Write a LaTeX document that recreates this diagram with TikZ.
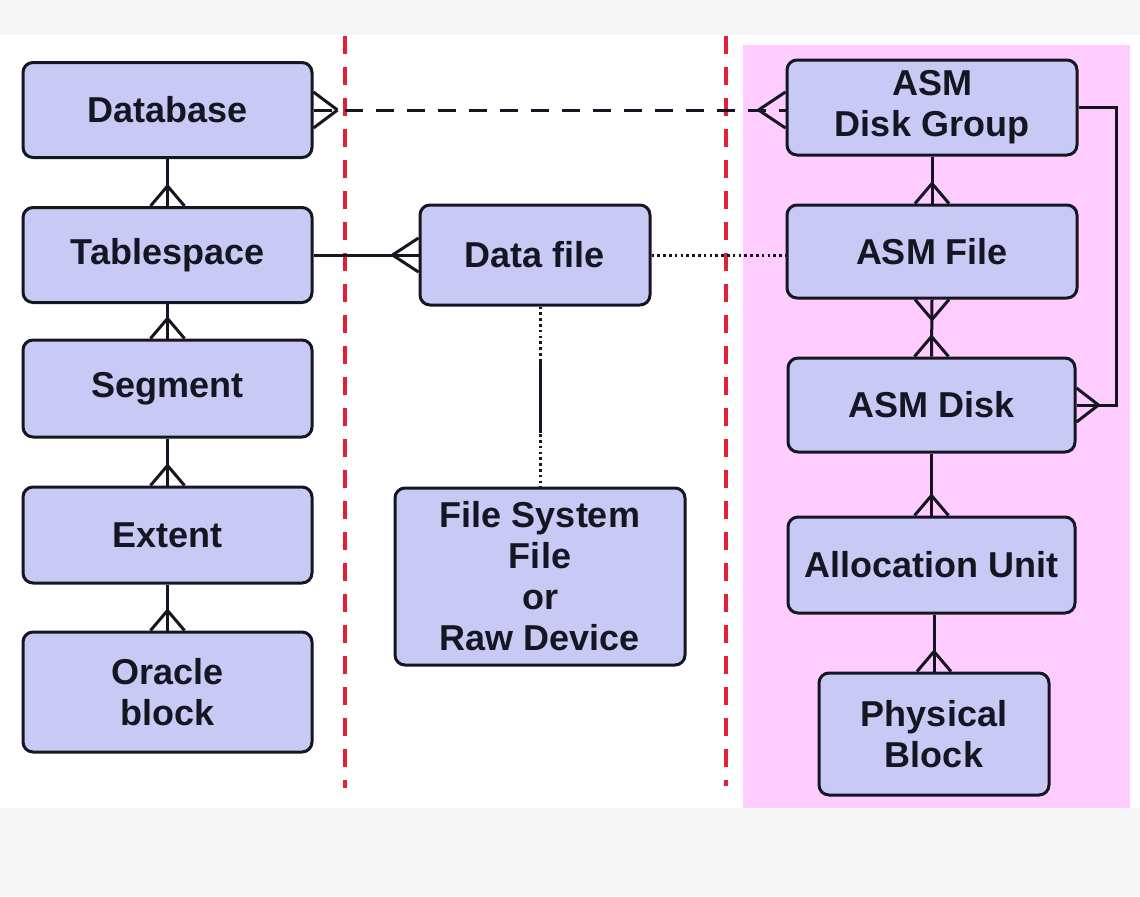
\documentclass[tikz,border=0pt]{standalone}
\usepackage{fontspec}
\setmainfont{Liberation Sans}
\usetikzlibrary{calc}
\definecolor{boxfill}{RGB}{200,202,245}
\definecolor{pinkbg}{RGB}{255,204,255}
\definecolor{reddash}{RGB}{228,32,52}
\definecolor{outerbg}{RGB}{246,246,246}
\definecolor{ink}{RGB}{22,22,34}
\newcommand{\crowat}[3]{\draw[conn] ($(#1)+#2$) -- ($(#1)+#3$) ($(#1)+#2$) -- ($(#1)-#3$);}
\begin{document}
\begin{tikzpicture}[x=0.5pt,y=-0.5pt,
  entity/.style={draw=ink, line width=1.5pt, fill=boxfill, rounded corners=5pt,
    align=center, text=ink, font=\fontsize{18}{20.5}\selectfont\bfseries,
    inner sep=0pt},
  conn/.style={draw=ink, line width=1.5pt},
  sep/.style={draw=reddash, line width=2pt, dash pattern=on 9pt off 6.5pt},
  dashconn/.style={conn, dash pattern=on 9pt off 6.5pt},
  dotconn/.style={conn, dash pattern=on 1.3pt off 1.6pt}]
\useasboundingbox (0,0) rectangle (1140,896);
\fill[outerbg] (0,0) rectangle (1140,896);
\fill[white] (0,35) rectangle (1140,808);
\fill[pinkbg] (743,45) rectangle (1130,808);
\draw[sep] (345,36) -- (345,788);
\draw[sep] (726,36) -- (726,786);

% left column
\node[entity, minimum width=144.5pt, minimum height=47.5pt] (db) at (167.5,110) {Database};
\node[entity, minimum width=144.5pt, minimum height=47.5pt] (ts) at (167.5,255) {Tablespace};
\node[entity, minimum width=144.5pt, minimum height=48.5pt] (sg) at (167.5,388.5) {Segment};
\node[entity, minimum width=144.5pt, minimum height=48pt] (ex) at (167.5,535) {Extent};
\node[entity, minimum width=144.5pt, minimum height=60pt] (ob) at (167.5,692) {Oracle\\block};

% middle column
\node[entity, minimum width=115pt, minimum height=50pt] (df) at (535,255) {Data file};
\node[entity, minimum width=145pt, minimum height=88.5pt] (fs) at (540,576.5) {File System\\File\\or\\Raw Device};

% right column
\node[entity, minimum width=145pt, minimum height=47.5pt] (dg) at (932,107.5) {ASM\\Disk Group};
\node[entity, minimum width=145pt, minimum height=46.5pt] (af) at (932,251.5) {ASM File};
\node[entity, minimum width=143.5pt, minimum height=47pt] (ad) at (931.5,405) {ASM Disk};
\node[entity, minimum width=143.5pt, minimum height=48pt] (au) at (931.5,565) {Allocation Unit};
\node[entity, minimum width=115pt, minimum height=61pt] (pb) at (934,734) {Physical\\Block};

% left column connectors
\draw[conn] (db.south) -- (ts.north); \crowat{ts.north}{(0,-20)}{(17,0)}
\draw[conn] (ts.south) -- (sg.north); \crowat{sg.north}{(0,-20)}{(17,0)}
\draw[conn] (sg.south) -- (ex.north); \crowat{ex.north}{(0,-20)}{(17,0)}
\draw[conn] (ex.south) -- (ob.north); \crowat{ob.north}{(0,-20)}{(17,0)}

% tablespace - data file
\draw[conn] (ts.east) -- (df.west); \crowat{df.west}{(-26,0)}{(0,17)}

% database - asm disk group (dashed)
\coordinate (dgw) at (db.east -| dg.west);
\draw[dashconn] (db.east) -- (dgw);
\crowat{db.east}{(24,0)}{(0,18)}
\crowat{dgw}{(-27,0)}{(0,18)}

% data file - asm file (dotted)
\coordinate (afw) at (df.east -| af.west);
\draw[dotconn] (df.east) -- (afw);

% data file - file system file
\coordinate (dfs) at (fs.north |- df.south);
\draw[dotconn] (dfs) -- (fs.north);
\draw[conn] ($(dfs)!0.3!(fs.north)$) -- ($(dfs)!0.7!(fs.north)$);

% right column connectors
\draw[conn] (dg.south) -- (af.north); \crowat{af.north}{(0,-20)}{(17,0)}
\draw[conn] (af.south) -- (ad.north);
\crowat{af.south}{(0,20)}{(17,0)}
\crowat{ad.north}{(0,-20)}{(17,0)}
\draw[conn] (ad.south) -- (au.north); \crowat{au.north}{(0,-20)}{(17,0)}
\coordinate (aus) at (au.south -| pb.north);
\draw[conn] (aus) -- (pb.north); \crowat{pb.north}{(0,-20)}{(17,0)}

% disk group - asm disk loop
\draw[conn] (dg.east) -- ++(38,0) |- (ad.east);
\crowat{ad.east}{(22,0)}{(0,17)}
\end{tikzpicture}
\end{document}
